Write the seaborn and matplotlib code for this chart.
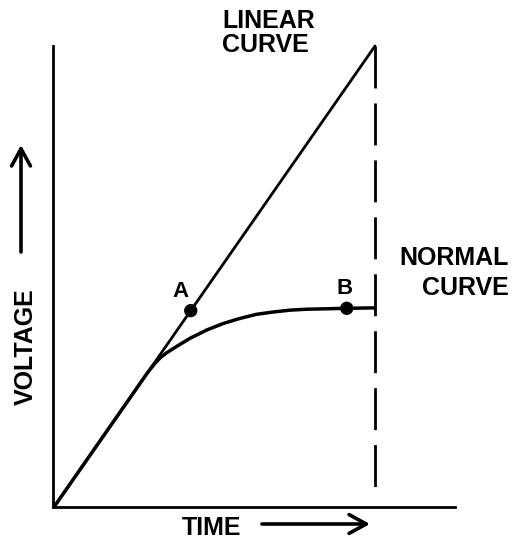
import matplotlib
matplotlib.use("Agg")
import matplotlib.pyplot as plt
import seaborn as sns
import pandas as pd

# Time and voltage in arbitrary units; the linear ramp reaches 10 at t = 10.
linear_time = [0, 10]
linear_voltage = [0, 10]

normal_time = [0, 2.85, 3.0, 3.15, 3.3, 3.5, 3.72, 4.24, 4.76, 5.27, 5.79, 6.31, 6.83, 7.35, 7.87, 9.12, 10.0]
normal_voltage = [0, 2.85, 2.99, 3.12, 3.23, 3.34, 3.44, 3.66, 3.84, 3.98, 4.09, 4.18, 4.23, 4.27, 4.29, 4.31, 4.32]

point_labels = ["A", "B"]
point_time = [4.26, 9.12]
point_voltage = [4.26, 4.31]

cutoff_time = [10, 10]
cutoff_voltage = [10, 0.37]

time_axis_end = 12.5
voltage_axis_end = 10

sns.set_style("white")
plt.rcParams["lines.scale_dashes"] = False
plt.rcParams["font.family"] = ["Liberation Sans", "DejaVu Sans"]
plt.rcParams["text.color"] = "black"

W, H = 518, 540
fig = plt.figure(figsize=(W / 100, H / 100), dpi=100)
ax = fig.add_axes([0, 0, 1, 1])

# pixel layout: origin at (54, 507), 32.1 px per time unit, 46.1 px per voltage unit
ax.set_xlim(-54 / 32.1, (W - 54) / 32.1)
ax.set_ylim(-(H - 507) / 46.1, 507 / 46.1)

linear = pd.DataFrame({"time": linear_time, "voltage": linear_voltage})
normal = pd.DataFrame({"time": normal_time, "voltage": normal_voltage})
points = pd.DataFrame({"time": point_time, "voltage": point_voltage, "label": point_labels})

sns.lineplot(data=linear, x="time", y="voltage", ax=ax, color="black",
             lw=2.0, sort=False, estimator=None)
sns.lineplot(data=normal, x="time", y="voltage", ax=ax, color="black",
             lw=2.5, sort=False, estimator=None, solid_capstyle="round",
             solid_joinstyle="round")
sns.lineplot(x=cutoff_time, y=cutoff_voltage, ax=ax, color="black",
             lw=2.0, sort=False, estimator=None, linestyle=(0, (30.2, 10.8)))
sns.scatterplot(data=points, x="time", y="voltage", ax=ax, color="black",
                s=92, edgecolor="none", zorder=5)

for _, row in points.iterrows():
    dx = -0.33 if row["label"] == "A" else -0.06
    ax.text(row["time"] + dx, row["voltage"] + 0.3, row["label"],
            ha="center", va="baseline", fontsize=16, fontweight="bold",
            color="black")

# axes drawn as spines through the origin
for side in ("top", "right"):
    ax.spines[side].set_visible(False)
ax.spines["left"].set_position(("data", -0.03))
ax.spines["bottom"].set_position(("data", 0))
ax.spines["left"].set_bounds(0, voltage_axis_end)
ax.spines["bottom"].set_bounds(0, time_axis_end)
for side in ("left", "bottom"):
    ax.spines[side].set_linewidth(2.0)
    ax.spines[side].set_color("black")
ax.set_xticks([])
ax.set_yticks([])
ax.set_xlabel("")
ax.set_ylabel("")
ax.patch.set_alpha(0)


def fx(px):
    return px / W


def fy(py):
    return 1 - py / H


kw = dict(fontsize=18, fontweight="bold", color="black")
fig.text(fx(222), fy(28), "LINEAR", ha="left", va="baseline", **kw)
fig.text(fx(222), fy(52), "CURVE", ha="left", va="baseline", **kw)
fig.text(fx(509), fy(265), "NORMAL", ha="right", va="baseline", **kw)
fig.text(fx(509), fy(295), "CURVE", ha="right", va="baseline", **kw)
fig.text(fx(212), fy(535), "TIME", ha="center", va="baseline", **kw)
fig.text(fx(33), fy(347), "VOLTAGE", ha="center", va="baseline",
         rotation=90, rotation_mode="anchor", **kw)

arrow = dict(arrowstyle="->,head_length=0.62,head_width=0.34", lw=2.6,
             color="black", shrinkA=0, shrinkB=0)
ax.annotate("", xy=(21, H - 145), xytext=(21, H - 252),
            xycoords="figure pixels", textcoords="figure pixels",
            arrowprops=dict(mutation_scale=20, **arrow))
ax.annotate("", xy=(370, H - 524), xytext=(262, H - 524),
            xycoords="figure pixels", textcoords="figure pixels",
            arrowprops=dict(mutation_scale=20, **arrow))

fig.savefig("out.png", dpi=100, facecolor="white")
